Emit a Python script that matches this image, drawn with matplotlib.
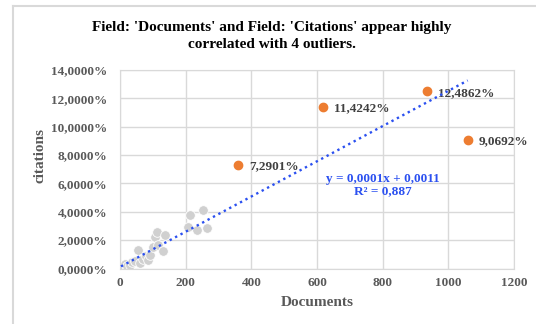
import matplotlib.pyplot as plt
from matplotlib.lines import Line2D
from matplotlib.ticker import FuncFormatter

# gray points (documents, citations in %)
docs = [3, 8, 15, 22, 30, 38, 46, 56, 62, 71, 80, 86, 91, 101, 107, 112, 117,
        132, 137, 208, 213, 234, 254, 264]
cites = [0.05, 0.15, 0.3, 0.2, 0.25, 0.45, 0.5, 1.3, 0.4, 0.7, 0.9, 0.6, 0.95,
         1.53, 2.24, 2.6, 1.65, 1.2, 2.36, 2.94, 3.77, 2.7, 4.12, 2.83]

# outliers
out_docs = [360, 619, 934, 1059]
out_cites = [7.2901, 11.4242, 12.4862, 9.0692]
out_labels = ["7,2901%", "11,4242%", "12,4862%", "9,0692%"]

# trend line (percent units)
slope = 0.01242
intercept = 0.11

serif = "Liberation Serif"
txt = "#404040"
grid = "#D9D9D9"

fig = plt.figure(figsize=(5.36, 3.24), dpi=100)
ax = fig.add_axes([120/536, 1 - 268.5/324, 394/536, 198.5/324])

ax.scatter(docs, cites, s=48, color="#D0D0D0", edgecolors="white",
           linewidths=0.6, zorder=2)
ax.scatter(out_docs, out_cites, s=36, color="#ED7D31", zorder=3)
for x, y, lab in zip(out_docs, out_cites, out_labels):
    ax.annotate(lab, (x, y), xytext=(8, -1), textcoords="offset points",
                ha="left", va="center", fontsize=9.5, fontweight="bold",
                family=serif, color=txt)

x0, x1 = min(docs), max(out_docs)
ax.plot([x0, x1], [slope*x0 + intercept, slope*x1 + intercept],
        color="#2B50F0", linestyle=(0, (1, 1.6)), linewidth=1.7, zorder=4)
ax.text(801, 5.9, "y = 0,0001x + 0,0011\nR² = 0,887", ha="center",
        va="center", fontsize=9.5, fontweight="bold", family=serif,
        color="#2B50F0", linespacing=1.05)

ax.set_xlim(0, 1200)
ax.set_ylim(0, 14)
ax.set_xticks(range(0, 1201, 200))
ax.set_yticks(range(0, 15, 2))
ax.yaxis.set_major_formatter(FuncFormatter(lambda v, p: f"{v:.4f}%".replace(".", ",")))
ax.grid(True, color=grid, linewidth=1)
ax.set_axisbelow(True)
for s in ax.spines.values():
    s.set_color(grid)
ax.tick_params(length=0, labelsize=9.5, labelcolor="#595959")
ax.tick_params(axis="y", pad=9)
ax.tick_params(axis="x", pad=6)
for lab in ax.get_xticklabels() + ax.get_yticklabels():
    lab.set_family(serif)
    lab.set_fontweight("bold")

ax.set_xlabel("Documents", family=serif, fontweight="bold", fontsize=11,
              color="#595959", labelpad=5)
ax.text(40/536, 0.52, "citations", transform=fig.transFigure, rotation=90,
        ha="center", va="center", family=serif, fontweight="bold",
        fontsize=11, color="#595959")

fig.text(0.507, 1 - 36/324, "Field: 'Documents' and Field: 'Citations' appear highly\ncorrelated with 4 outliers.",
         ha="center", va="center", family=serif, fontweight="bold",
         fontsize=11, color="black", linespacing=1.3)

# chart frame
fig.add_artist(Line2D([13/536, 13/536], [0, 1 - 6/324], color=grid, linewidth=1.5))
fig.add_artist(Line2D([13/536, 1], [1 - 6/324, 1 - 6/324], color=grid, linewidth=1.5))

fig.savefig("out.png", dpi=100)
